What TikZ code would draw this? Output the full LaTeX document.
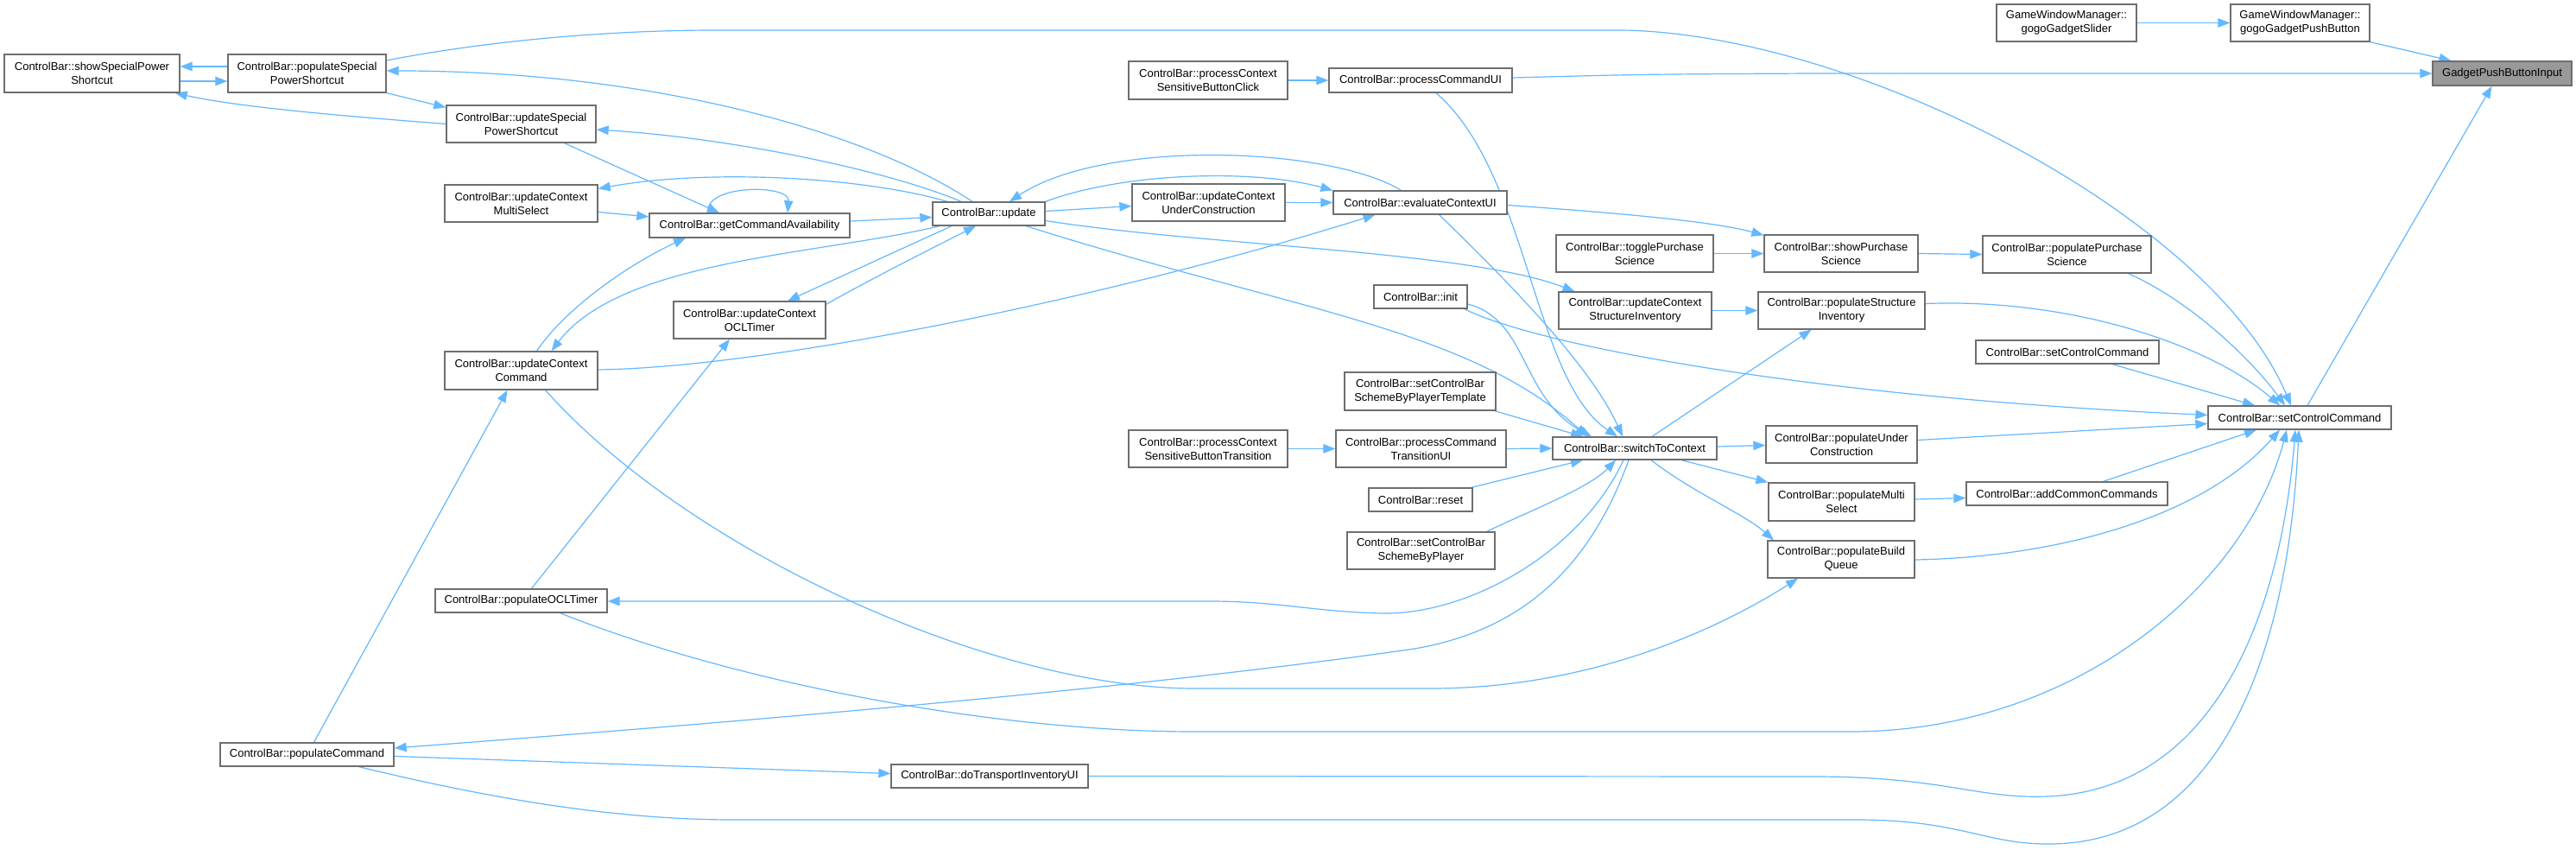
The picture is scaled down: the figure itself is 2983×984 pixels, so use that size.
\documentclass[tikz,border=0pt]{standalone}
\usepackage{fontspec}
\setmainfont{Liberation Sans}
\usetikzlibrary{arrows.meta}
\definecolor{edgeblue}{RGB}{99,184,255}
\definecolor{boxline}{RGB}{110,110,110}
\definecolor{hlfill}{RGB}{153,153,153}
\pgfdeclarelayer{bg}
\pgfsetlayers{bg,main}
\begin{document}
\begin{tikzpicture}[x=1pt,y=-1pt,
 box/.style={draw=boxline, line width=1.3pt, fill=white, inner sep=0pt, align=center, font=\fontsize{13}{16}\selectfont},
 hl/.style={box, fill=hlfill},
 edge/.style={draw=edgeblue, line width=1.2pt, -{Triangle[length=14pt,width=10.5pt]}}]
\useasboundingbox (0,0) rectangle (2983,984);

\node[box,minimum width=203pt,minimum height=44pt] (sSPS) at (106.5,85) {ControlBar::showSpecialPower\\Shortcut};
\node[box,minimum width=183pt,minimum height=44pt] (pSPS) at (355.5,85) {ControlBar::populateSpecial\\PowerShortcut};
\node[box,minimum width=173pt,minimum height=43pt] (uSPS) at (603.5,143.5) {ControlBar::updateSpecial\\PowerShortcut};
\node[box,minimum width=177pt,minimum height=43pt] (uCMS) at (603.5,235.5) {ControlBar::updateContext\\MultiSelect};
\node[box,minimum width=232pt,minimum height=28pt] (gCA) at (868,261) {ControlBar::getCommandAvailability};
\node[box,minimum width=176pt,minimum height=43pt] (uCOT) at (868,370.5) {ControlBar::updateContext\\OCLTimer};
\node[box,minimum width=177pt,minimum height=44pt] (uCC) at (603.5,429) {ControlBar::updateContext\\Command};
\node[box,minimum width=199pt,minimum height=27pt] (pOT) at (603.5,695.5) {ControlBar::populateOCLTimer};
\node[box,minimum width=201pt,minimum height=27pt] (pC) at (355.5,873.5) {ControlBar::populateCommand};
\node[box,minimum width=130pt,minimum height=27pt] (upd) at (1145,247.5) {ControlBar::update};
\node[box,minimum width=228pt,minimum height=27pt] (dTIUI) at (1146,898.5) {ControlBar::doTransportInventoryUI};
\node[box,minimum width=184pt,minimum height=44pt] (pCSBC) at (1399,93) {ControlBar::processContext\\SensitiveButtonClick};
\node[box,minimum width=177pt,minimum height=43pt] (uCUC) at (1399.5,234.5) {ControlBar::updateContext\\UnderConstruction};
\node[box,minimum width=184pt,minimum height=43pt] (pCSBT) at (1399,519.5) {ControlBar::processContext\\SensitiveButtonTransition};
\node[box,minimum width=212pt,minimum height=28pt] (pCUI) at (1645,93) {ControlBar::processCommandUI};
\node[box,minimum width=201pt,minimum height=27pt] (eCUI) at (1644.5,234.5) {ControlBar::evaluateContextUI};
\node[box,minimum width=108pt,minimum height=27pt] (init) at (1645,343.5) {ControlBar::init};
\node[box,minimum width=175pt,minimum height=44pt] (sCBSBPT) at (1644.5,453) {ControlBar::setControlBar\\SchemeByPlayerTemplate};
\node[box,minimum width=197pt,minimum height=43pt] (pCTUI) at (1645.5,519.5) {ControlBar::processCommand\\TransitionUI};
\node[box,minimum width=120pt,minimum height=27pt] (reset) at (1645,578.5) {ControlBar::reset};
\node[box,minimum width=171pt,minimum height=43pt] (sCBSBP) at (1645.5,637.5) {ControlBar::setControlBar\\SchemeByPlayer};
\node[box,minimum width=182pt,minimum height=43pt] (tPS) at (1893,293.5) {ControlBar::togglePurchase\\Science};
\node[box,minimum width=177pt,minimum height=43pt] (uCSI) at (1893.5,359.5) {ControlBar::updateContext\\StructureInventory};
\node[box,minimum width=190pt,minimum height=26pt] (sTC) at (1893,519) {ControlBar::switchToContext};
\node[box,minimum width=178pt,minimum height=43pt] (sPS) at (2132,293.5) {ControlBar::showPurchase\\Science};
\node[box,minimum width=193pt,minimum height=43pt] (pSI) at (2132.5,359.5) {ControlBar::populateStructure\\Inventory};
\node[box,minimum width=175pt,minimum height=43pt] (pUC) at (2132.5,514.5) {ControlBar::populateUnder\\Construction};
\node[box,minimum width=169pt,minimum height=44pt] (pMS) at (2132.5,581) {ControlBar::populateMulti\\Select};
\node[box,minimum width=170pt,minimum height=43pt] (pBQ) at (2132,647.5) {ControlBar::populateBuild\\Queue};
\node[box,minimum width=162pt,minimum height=43pt] (gGS) at (2393,26.5) {GameWindowManager::\\gogoGadgetSlider};
\node[box,minimum width=195pt,minimum height=43pt] (pPS) at (2393.5,294.5) {ControlBar::populatePurchase\\Science};
\node[box,minimum width=212pt,minimum height=27pt] (sCC2) at (2394,407.5) {ControlBar::setControlCommand};
\node[box,minimum width=233pt,minimum height=27pt] (aCC) at (2393.5,571.5) {ControlBar::addCommonCommands};
\node[box,minimum width=161pt,minimum height=43pt] (gGPB) at (2663.5,26.5) {GameWindowManager::\\gogoGadgetPushButton};
\node[box,minimum width=212pt,minimum height=27pt] (sCC) at (2663,483.5) {ControlBar::setControlCommand};
\node[hl,minimum width=161pt,minimum height=28pt] (GPBI) at (2897.5,85) {GadgetPushButtonInput};

\begin{pgfonlayer}{bg}
\fill[white] (0,0) rectangle (2983,984);
\draw[edge] ([yshift=8pt]pSPS.west) -- ([yshift=8pt]sSPS.east);
\draw[edge] ([yshift=-9pt]sSPS.east) -- ([yshift=-9pt]pSPS.west);
\draw[edge] (uSPS.west) .. controls (420,136) and (280,125) .. ([xshift=-6pt]sSPS.south east);
\draw[edge] (pSPS.south east) -- ([yshift=-3pt]uSPS.north west);
\draw[edge] ([yshift=15pt]pSPS.east) .. controls (560,48) and (700,35) .. (829,35) -- (1880,35) .. controls (2150,40) and (2560,250) .. ([xshift=-10pt]sCC.north);
\draw[edge] ([xshift=-19pt]upd.north) .. controls (1000,150) and (750,82) .. ([yshift=3pt]pSPS.east);
\draw[edge] ([xshift=-32pt]upd.north) .. controls (1030,198) and (850,160) .. ([yshift=-6.5pt]uSPS.east);
\draw[edge] ([xshift=-48pt]upd.north) .. controls (1000,205) and (820,195) .. ([yshift=17pt]uCMS.east);
\draw[edge] ([xshift=50pt]uSPS.south) -- ([xshift=-35pt]gCA.north);
\draw[edge] ([yshift=-10pt]uCMS.east) -- ([yshift=10pt]gCA.west);
\draw[edge] ([xshift=-48pt]gCA.north) .. controls (815,213) and (915,213) .. ([xshift=44pt]gCA.north);
\draw[edge] ([yshift=5pt]gCA.east) -- ([yshift=-4pt]upd.west);
\draw[edge] ([xshift=18pt]uCC.north) .. controls (660,350) and (740,300) .. ([xshift=-74pt]gCA.south);
\draw[edge] ([xshift=-57pt]upd.south) .. controls (950,295) and (720,300) .. ([xshift=35pt]uCC.north);
\draw[edge] ([xshift=-43pt]upd.south) -- ([xshift=44pt]uCOT.north);
\draw[edge] ([yshift=-4pt]uCOT.north east) .. controls (1010,322) and (1090,282) .. ([xshift=-15pt]upd.south);
\draw[edge] ([yshift=1pt]uCC.east) .. controls (900,425) and (1300,340) .. ([xshift=-52pt]eCUI.south);
\draw[edge] ([xshift=8pt]pC.north) -- ([xshift=-16pt]uCC.south);
\draw[edge] ([xshift=28pt]uCC.south) .. controls (800,640) and (1150,797) .. (1383,797) -- (1657,797) .. controls (1850,797) and (2000,722) .. ([xshift=-50pt]pBQ.south);
\draw[edge] ([xshift=12pt]pOT.north) -- ([xshift=-23pt]uCOT.south);
\draw[edge] ([yshift=3pt]upd.east) -- ([yshift=-4pt]uCUC.west);
\draw[edge] (uCUC.east) -- (eCUI.west);
\draw[edge] (upd.north east) .. controls (1300,200) and (1450,195) .. (eCUI.north west);
\draw[edge] ([xshift=-22pt]eCUI.north) .. controls (1540,170) and (1280,160) .. ([xshift=24pt]upd.north);
\draw[edge] ([yshift=-8pt]upd.east) .. controls (1400,285) and (1700,290) .. ([xshift=-70pt]uCSI.north);
\draw[edge] ([xshift=43pt]upd.south) .. controls (1500,360) and (1700,380) .. ([xshift=-55pt]sTC.north);
\draw[edge] ([yshift=-8.5pt]init.east) .. controls (1770,370) and (1760,460) .. ([xshift=-50pt]sTC.north);
\draw[edge] ([xshift=-4pt]init.south east) .. controls (1780,400) and (2100,460) .. ([yshift=3pt]sCC.west);
\draw[edge] ([xshift=18pt]pCUI.south) .. controls (1770,200) and (1775,440) .. ([xshift=-20pt]sTC.north);
\draw[edge] ([xshift=22pt]eCUI.south) .. controls (1740,320) and (1840,420) .. ([xshift=-14pt]sTC.north);
\draw[edge] ([xshift=-2pt]sCBSBPT.south east) -- ([xshift=-60pt]sTC.north);
\draw[edge] (pCTUI.east) -- (sTC.west);
\draw[edge] ([xshift=-2pt]reset.north east) -- ([xshift=-60pt]sTC.south);
\draw[edge] ([xshift=-10pt]sCBSBP.north east) .. controls (1770,592) and (1840,565) .. ([xshift=-22pt]sTC.south);
\draw[edge] (pCSBT.east) -- (pCTUI.west);
\draw[edge] ([xshift=-13pt]sTC.south) .. controls (1830,640) and (1700,712) .. (1600,710) .. controls (1520,708) and (1480,696) .. (1400,696) -- ([yshift=-0.5pt]pOT.east);
\draw[edge] ([xshift=-7pt]sTC.south) .. controls (1840,660) and (1760,730) .. (1638,751) .. controls (1300,800) and (800,840) .. ([yshift=7.5pt]pC.east);
\draw[edge] ([xshift=20pt]sTC.north) -- ([xshift=-35pt]pSI.south);
\draw[edge] ([yshift=2pt]sTC.east) -- ([yshift=-1pt]pUC.west);
\draw[edge] ([xshift=54pt]sTC.south) -- (pMS.north west);
\draw[edge] ([xshift=19pt]sTC.south) .. controls (1960,570) and (2020,595) .. ([xshift=-78pt]pBQ.north);
\draw[edge] ([yshift=-3pt]eCUI.east) .. controls (1850,245) and (1980,255) .. ([yshift=-1pt]sPS.north west);
\draw[edge] (tPS.east) -- (sPS.west);
\draw[edge] (sPS.east) -- (pPS.west);
\draw[edge] (uCSI.east) -- (pSI.west);
\draw[edge] (pCSBC.east) -- (pCUI.west);
\draw[edge] ([yshift=3pt]pCUI.east) .. controls (1900,86) .. (2100,85) -- (GPBI.west);
\draw[edge] (gGS.east) -- (gGPB.west);
\draw[edge] (gGPB.south east) -- ([xshift=-59pt]GPBI.north);
\draw[edge] ([xshift=9pt]sCC.north) -- ([xshift=-12pt]GPBI.south);
\draw[edge] ([xshift=52pt]sCC2.south) -- ([xshift=-52pt]sCC.north);
\draw[edge] ([yshift=8pt]pSI.east) .. controls (2400,345) and (2560,400) .. ([xshift=-23pt]sCC.north);
\draw[edge] ([xshift=71pt]pPS.south) .. controls (2540,350) and (2610,420) .. ([xshift=-17pt]sCC.north);
\draw[edge] ([yshift=5pt]pUC.east) -- ([yshift=-7pt]sCC.west);
\draw[edge] ([xshift=42pt]aCC.north) -- ([xshift=-50pt]sCC.south);
\draw[edge] ([yshift=3pt]pMS.east) -- ([yshift=-5pt]aCC.west);
\draw[edge] ([yshift=-0.5pt]pBQ.east) .. controls (2380,645) and (2550,600) .. ([xshift=-23pt]sCC.south);
\draw[edge] ([xshift=45pt]pOT.south) .. controls (850,790) and (1150,847) .. (1383,847) -- (2143,847) .. controls (2400,847) and (2600,680) .. ([xshift=-15pt]sCC.south);
\draw[edge] (dTIUI.east) -- (2100,899) .. controls (2250,899) and (2290,925) .. (2370,922) .. controls (2560,915) and (2640,720) .. ([xshift=-5pt]sCC.south);
\draw[edge] ([xshift=60pt]pC.south) .. controls (550,920) and (700,949) .. (850,949) -- (2150,949) .. controls (2270,949) and (2300,978) .. (2375,977) .. controls (2570,975) and (2650,760) .. ([xshift=-1pt]sCC.south);
\draw[edge] ([yshift=-2pt]pC.east) -- ([yshift=3pt]dTIUI.west);
\end{pgfonlayer}
\end{tikzpicture}
\end{document}
